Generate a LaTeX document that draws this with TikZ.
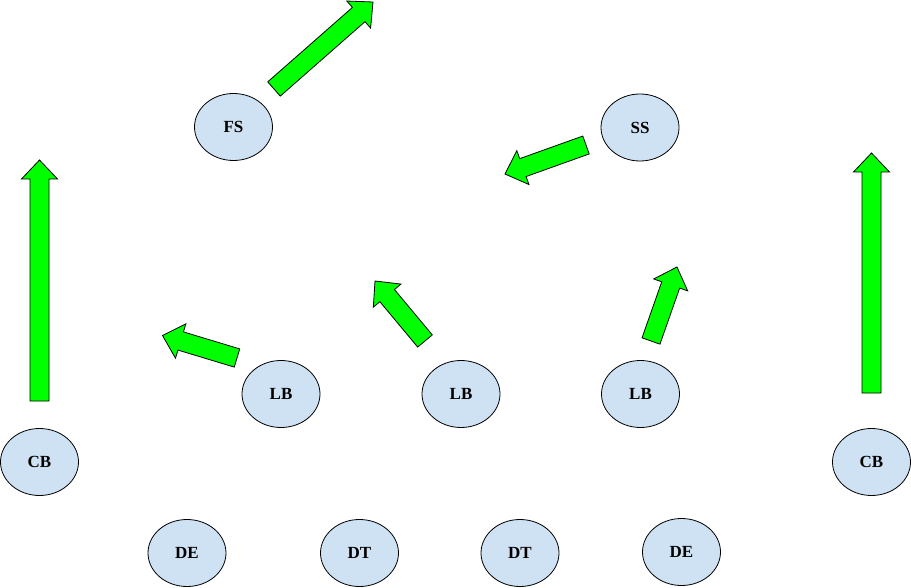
\documentclass[tikz,border=0pt]{standalone}
\usepackage{fontspec}
\setmainfont{Liberation Serif}
\usetikzlibrary{shapes.geometric,calc}

\newcommand{\runarrow}[2]{%
  \coordinate (b) at ($(#2)!19pt!(#1)$);
  \draw[route] ($(#1)!9.5pt!90:(#2)$) -- ($(b)!9.5pt!90:(#2)$)
    -- ($(b)!18pt!90:(#2)$) -- (#2) -- ($(b)!18pt!-90:(#2)$)
    -- ($(b)!9.5pt!-90:(#2)$) -- ($(#1)!9.5pt!-90:(#2)$) -- cycle;}

\begin{document}
\begin{tikzpicture}[x=1pt, y=-1pt,
                    player/.style={ellipse, draw, line width=0.8pt, fill=lightblue,
                      minimum width=78pt, minimum height=67pt, inner sep=0pt,
                      font=\fontsize{17}{20}\selectfont\bfseries},
                    route/.style={draw, line width=0.8pt, fill=routegreen, line join=miter}]
  \definecolor{lightblue}{HTML}{CFE2F3}
  \definecolor{routegreen}{HTML}{00FF00}
  \useasboundingbox (0,0) rectangle (911,588);

  \node[player] (fs)  at (233.5,127) {FS};
  \node[player] (ss)  at (640,127.5) {SS};
  \node[player] (lb1) at (281,394) {LB};
  \node[player] (lb2) at (461,394) {LB};
  \node[player] (lb3) at (640.5,394) {LB};
  \node[player] (cb1) at (39.5,462) {CB};
  \node[player] (cb2) at (871.5,462) {CB};
  \node[player] (de1) at (187,553) {DE};
  \node[player] (dt1) at (359.5,553) {DT};
  \node[player] (dt2) at (520,553) {DT};
  \node[player] (de2) at (681.5,552) {DE};

  \coordinate (fs tail)  at (274,89);   \coordinate (fs tip)  at (373,2);
  \coordinate (ss tail)  at (586,145);  \coordinate (ss tip)  at (505,174);
  \coordinate (lb1 tail) at (237,358);  \coordinate (lb1 tip) at (162.5,335.5);
  \coordinate (lb2 tail) at (425,341);  \coordinate (lb2 tip) at (375,281);
  \coordinate (lb3 tail) at (651,341);  \coordinate (lb3 tip) at (677,267);
  \coordinate (cb1 tail) at (39.5,401); \coordinate (cb1 tip) at (39.5,160);
  \coordinate (cb2 tail) at (871.5,393); \coordinate (cb2 tip) at (871.5,153);

  \foreach \p in {fs, ss, lb1, lb2, lb3, cb1, cb2}
    \runarrow{\p\space tail}{\p\space tip};
\end{tikzpicture}
\end{document}
